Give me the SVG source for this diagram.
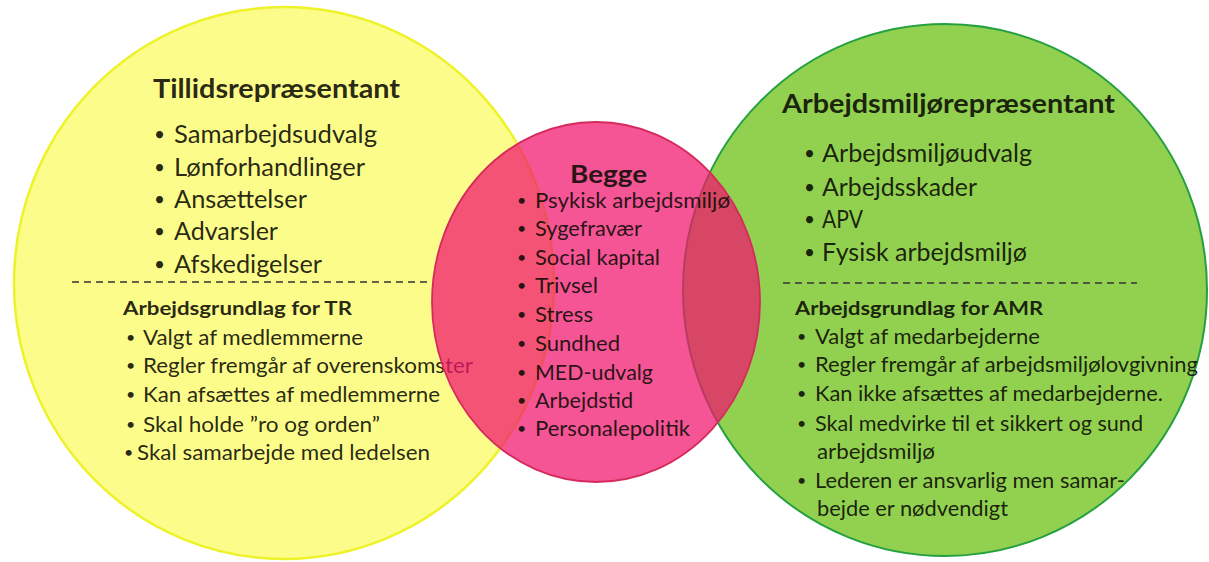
<svg xmlns="http://www.w3.org/2000/svg" width="1209" height="562" viewBox="0 0 1209 562">
<style>
text{font-family:Lato,"Open Sans","Liberation Sans",sans-serif;fill:#0c0c05;fill-opacity:.9}
.t{font-weight:bold;font-size:27px}
.h{font-weight:bold;font-size:19px}
.b{font-size:25px}
.s{font-size:21px}
.bb{font-size:19px}
.sb{font-size:16px}
.dash{stroke:#333;stroke-width:1.6;stroke-dasharray:7 5;fill:none}
</style>
<rect width="1209" height="562" fill="#fff"/>
<g id="tillidsrepraesentant">
<ellipse cx="284" cy="283" rx="270" ry="276" fill="#FCFC8A" stroke="#EEF228" stroke-width="2.5"/>
<text class="t" x="153" y="98" textLength="247" lengthAdjust="spacingAndGlyphs">Tillidsrepræsentant</text>
<text class="bb" x="154" y="141">•</text><text class="b" x="174" y="143" textLength="203" lengthAdjust="spacingAndGlyphs">Samarbejdsudvalg</text>
<text class="bb" x="154" y="174">•</text><text class="b" x="174" y="176" textLength="191" lengthAdjust="spacingAndGlyphs">Lønforhandlinger</text>
<text class="bb" x="154" y="206">•</text><text class="b" x="174" y="208" textLength="133" lengthAdjust="spacingAndGlyphs">Ansættelser</text>
<text class="bb" x="154" y="238">•</text><text class="b" x="174" y="240" textLength="104" lengthAdjust="spacingAndGlyphs">Advarsler</text>
<text class="bb" x="154" y="271">•</text><text class="b" x="174" y="273" textLength="148" lengthAdjust="spacingAndGlyphs">Afskedigelser</text>
<line class="dash" x1="72" y1="282" x2="432" y2="282"/>
<text class="h" x="123" y="315" textLength="229" lengthAdjust="spacingAndGlyphs">Arbejdsgrundlag for TR</text>
<text class="sb" x="126" y="343">•</text><text class="s" x="143" y="345" textLength="220" lengthAdjust="spacingAndGlyphs">Valgt af medlemmerne</text>
<text class="sb" x="126" y="371">•</text><text class="s" x="143" y="373" textLength="330" lengthAdjust="spacingAndGlyphs">Regler fremgår af overenskomster</text>
<text class="sb" x="126" y="400">•</text><text class="s" x="143" y="402" textLength="297" lengthAdjust="spacingAndGlyphs">Kan afsættes af medlemmerne</text>
<text class="sb" x="126" y="430">•</text><text class="s" x="143" y="432" textLength="237" lengthAdjust="spacingAndGlyphs">Skal holde ”ro og orden”</text>
<text class="sb" x="124" y="458">•</text><text class="s" x="137" y="460" textLength="293" lengthAdjust="spacingAndGlyphs">Skal samarbejde med ledelsen</text>
</g>
<g id="arbejdsmiljoerepraesentant">
<ellipse cx="945" cy="290" rx="262" ry="266" fill="#92D050" stroke="#25A040" stroke-width="2"/>
<text class="t" x="782" y="113" textLength="333" lengthAdjust="spacingAndGlyphs">Arbejdsmiljørepræsentant</text>
<text class="bb" x="804" y="160">•</text><text class="b" x="822" y="162" textLength="210" lengthAdjust="spacingAndGlyphs">Arbejdsmiljøudvalg</text>
<text class="bb" x="804" y="194">•</text><text class="b" x="822" y="196" textLength="155" lengthAdjust="spacingAndGlyphs">Arbejdsskader</text>
<text class="bb" x="804" y="226">•</text><text class="b" x="822" y="228" textLength="41" lengthAdjust="spacingAndGlyphs">APV</text>
<text class="bb" x="804" y="259">•</text><text class="b" x="822" y="261" textLength="205" lengthAdjust="spacingAndGlyphs">Fysisk arbejdsmiljø</text>
<line class="dash" x1="783" y1="283" x2="1137" y2="283"/>
<text class="h" x="795" y="315" textLength="248" lengthAdjust="spacingAndGlyphs">Arbejdsgrundlag for AMR</text>
<text class="sb" x="797" y="342">•</text><text class="s" x="815" y="344" textLength="225" lengthAdjust="spacingAndGlyphs">Valgt af medarbejderne</text>
<text class="sb" x="797" y="370">•</text><text class="s" x="815" y="372" textLength="383" lengthAdjust="spacingAndGlyphs">Regler fremgår af arbejdsmiljølovgivning</text>
<text class="sb" x="797" y="399">•</text><text class="s" x="815" y="401" textLength="348" lengthAdjust="spacingAndGlyphs">Kan ikke afsættes af medarbejderne.</text>
<text class="sb" x="797" y="429">•</text><text class="s" x="815" y="431" textLength="328" lengthAdjust="spacingAndGlyphs">Skal medvirke til et sikkert og sund</text>
<text class="s" x="817" y="459" textLength="118" lengthAdjust="spacingAndGlyphs">arbejdsmiljø</text>
<text class="sb" x="797" y="486">•</text><text class="s" x="815" y="488" textLength="310" lengthAdjust="spacingAndGlyphs">Lederen er ansvarlig men samar-</text>
<text class="s" x="817" y="516" textLength="191" lengthAdjust="spacingAndGlyphs">bejde er nødvendigt</text>
</g>
<g id="begge">
<ellipse cx="596" cy="302" rx="164" ry="180" fill="#F1156E" fill-opacity=".73" stroke="#D42A5C" stroke-width="1.8"/>
<text class="t" x="570" y="183" style="font-size:25px" textLength="77" lengthAdjust="spacingAndGlyphs">Begge</text>
<text class="sb" x="517" y="206">•</text><text class="s" x="535" y="208" textLength="195" lengthAdjust="spacingAndGlyphs">Psykisk arbejdsmiljø</text>
<text class="sb" x="517" y="234">•</text><text class="s" x="535" y="236" textLength="107" lengthAdjust="spacingAndGlyphs">Sygefravær</text>
<text class="sb" x="517" y="263">•</text><text class="s" x="535" y="265" textLength="125" lengthAdjust="spacingAndGlyphs">Social kapital</text>
<text class="sb" x="517" y="291">•</text><text class="s" x="535" y="293" textLength="63" lengthAdjust="spacingAndGlyphs">Trivsel</text>
<text class="sb" x="517" y="320">•</text><text class="s" x="535" y="322" textLength="58" lengthAdjust="spacingAndGlyphs">Stress</text>
<text class="sb" x="517" y="349">•</text><text class="s" x="535" y="351" textLength="85" lengthAdjust="spacingAndGlyphs">Sundhed</text>
<text class="sb" x="517" y="378">•</text><text class="s" x="535" y="380" textLength="118" lengthAdjust="spacingAndGlyphs">MED-udvalg</text>
<text class="sb" x="517" y="406">•</text><text class="s" x="535" y="408" textLength="98" lengthAdjust="spacingAndGlyphs">Arbejdstid</text>
<text class="sb" x="517" y="434">•</text><text class="s" x="535" y="436" textLength="155" lengthAdjust="spacingAndGlyphs">Personalepolitik</text>
</g>
<g id="connectors"/>
</svg>
